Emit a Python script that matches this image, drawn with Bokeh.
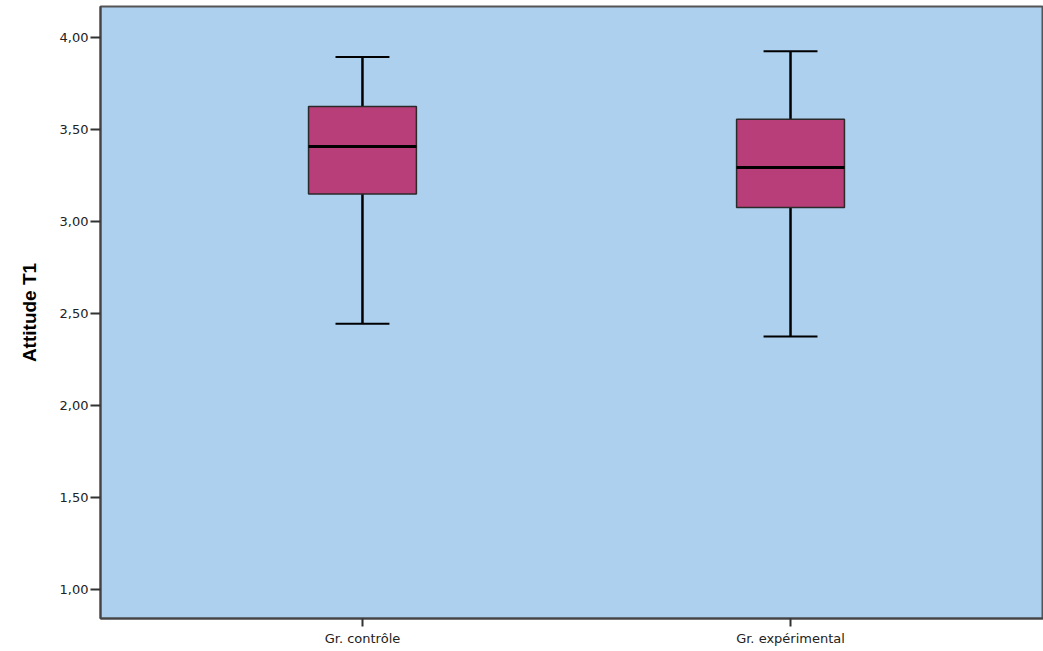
from bokeh.plotting import figure
from bokeh.models import FixedTicker, CustomJSTickFormatter, Range1d, ColumnDataSource
from bokeh.embed import file_html
from bokeh.resources import INLINE

groups = ["Gr. contrôle", "Gr. expérimental"]
positions = [1, 2]
whisker_low = [2.445, 2.375]
q1 = [3.150, 3.077]
median = [3.409, 3.295]
q3 = [3.626, 3.557]
whisker_high = [3.895, 3.927]
y_ticks = [1.0, 1.5, 2.0, 2.5, 3.0, 3.5, 4.0]

box_w = 0.252
cap_w = 0.126

p = figure(width=1043, height=651, output_backend="svg", toolbar_location=None,
           x_range=Range1d(0.388, 2.591), y_range=Range1d(0.842, 4.170),
           min_border_left=100, min_border_top=6, min_border_right=0, min_border_bottom=33)
p.background_fill_color = "#ADD0EE"
p.border_fill_color = "white"
p.outline_line_color = "#555555"
p.outline_line_width = 2
p.xgrid.visible = False
p.ygrid.visible = False

src = ColumnDataSource(dict(
    x=positions, lo=whisker_low, q1=q1, med=median, q3=q3, hi=whisker_high,
    x0=[v - box_w / 2 for v in positions], x1=[v + box_w / 2 for v in positions],
    c0=[v - cap_w / 2 for v in positions], c1=[v + cap_w / 2 for v in positions],
))

# whiskers
p.segment(x0="x", y0="q3", x1="x", y1="hi", source=src, line_color="black", line_width=2.5)
p.segment(x0="x", y0="lo", x1="x", y1="q1", source=src, line_color="black", line_width=2.5)
p.segment(x0="c0", y0="hi", x1="c1", y1="hi", source=src, line_color="black", line_width=2)
p.segment(x0="c0", y0="lo", x1="c1", y1="lo", source=src, line_color="black", line_width=2)
# boxes
p.vbar(x="x", width=box_w, top="q3", bottom="q1", source=src,
       fill_color="#B83E79", line_color="#2a2a2a", line_width=1.5)
p.segment(x0="x0", y0="med", x1="x1", y1="med", source=src, line_color="black", line_width=3)

# y axis
p.yaxis.ticker = FixedTicker(ticks=y_ticks)
p.yaxis.formatter = CustomJSTickFormatter(code="return tick.toFixed(2).replace('.', ',');")
p.yaxis.axis_label = "Attitude T1"
p.yaxis.axis_label_text_font = "Liberation Sans"
p.yaxis.axis_label_text_font_style = "bold"
p.yaxis.axis_label_text_font_size = "19px"
p.yaxis.axis_label_text_color = "black"
p.yaxis.axis_label_standoff = 17
p.yaxis.major_label_text_font = "DejaVu Sans"
p.yaxis.major_label_text_font_size = "13px"
p.yaxis.major_label_text_color = "#222222"
p.yaxis.major_label_standoff = 2
p.yaxis.major_tick_out = 10
p.yaxis.major_tick_in = 0
p.yaxis.minor_tick_out = 0
p.yaxis.minor_tick_in = 0
p.yaxis.axis_line_color = "#444444"
p.yaxis.axis_line_width = 2
p.yaxis.major_tick_line_color = "#333333"
p.yaxis.major_tick_line_width = 2

# x axis
p.xaxis.ticker = FixedTicker(ticks=positions)
p.xaxis.major_label_overrides = {positions[i]: groups[i] for i in range(len(groups))}
p.xaxis.major_label_text_font = "DejaVu Sans"
p.xaxis.major_label_text_font_size = "13px"
p.xaxis.major_label_text_color = "#222222"
p.xaxis.major_label_standoff = 4
p.xaxis.major_tick_out = 8
p.xaxis.major_tick_in = 0
p.xaxis.minor_tick_out = 0
p.xaxis.minor_tick_in = 0
p.xaxis.axis_line_color = "#444444"
p.xaxis.axis_line_width = 2
p.xaxis.major_tick_line_color = "#333333"
p.xaxis.major_tick_line_width = 2

open("out.html", "w").write(file_html(p, INLINE))
